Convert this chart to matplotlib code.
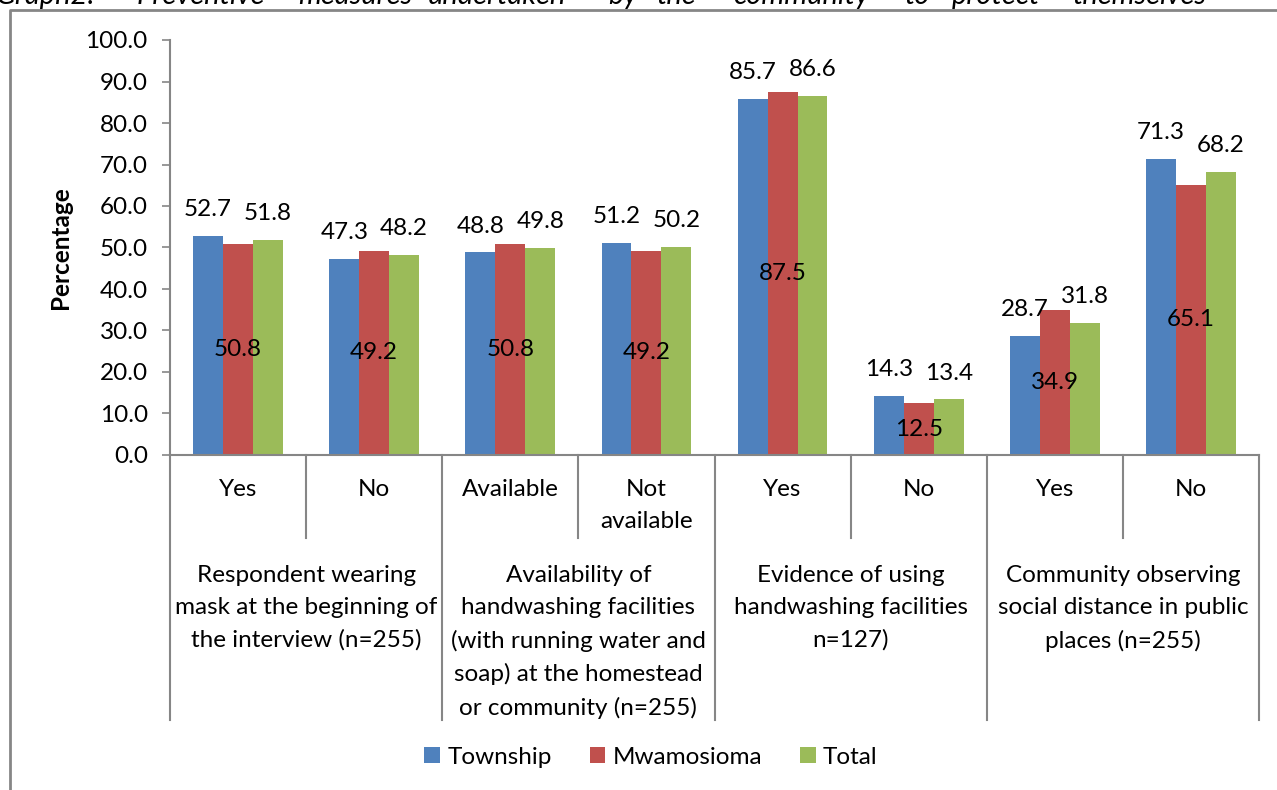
import numpy as np
import matplotlib.pyplot as plt
from matplotlib.lines import Line2D
import matplotlib.transforms as mtransforms

plt.rcParams['font.family'] = ['Lato', 'DejaVu Sans']

# Data
sub_labels = ["Yes", "No", "Available", "Not\navailable", "Yes", "No", "Yes", "No"]
group_labels = [
    "Respondent wearing\nmask at the beginning of\nthe interview (n=255)",
    "Availability of\nhandwashing facilities\n(with running water and\nsoap) at the homestead\nor community (n=255)",
    "Evidence of using\nhandwashing facilities\nn=127)",
    "Community observing\nsocial distance in public\nplaces (n=255)",
]
township = [52.7, 47.3, 48.8, 51.2, 85.7, 14.3, 28.7, 71.3]
mwamosioma = [50.8, 49.2, 50.8, 49.2, 87.5, 12.5, 34.9, 65.1]
total = [51.8, 48.2, 49.8, 50.2, 86.6, 13.4, 31.8, 68.2]
series_names = ["Township", "Mwamosioma", "Total"]
colors = ["#4F81BD", "#C0504D", "#9BBB59"]
title_words = ["Graph2:", "Preventive", "measures", "undertaken", "by", "the",
               "community", "to", "protect", "themselves"]

W, H = 1277, 790
fig = plt.figure(figsize=(W / 100, H / 100), dpi=100)
ax = fig.add_axes([170 / W, 1 - 455 / H, (1259 - 170) / W, 415 / H])

x = np.arange(len(sub_labels))
bw = 0.22
grey = "#868686"
fs = 17.5

all_series = [township, mwamosioma, total]
for i, (vals, name, c) in enumerate(zip(all_series, series_names, colors)):
    pos = x + (i - 1) * bw
    ax.bar(pos, vals, width=bw, color=c, label=name, zorder=2)
    for px, v in zip(pos, vals):
        if i == 1:
            # Mwamosioma labels sit inside the bar
            ax.text(px, v / 2, f"{v:.1f}", ha="center", va="center", fontsize=fs, zorder=3)
        else:
            ax.annotate(f"{v:.1f}", (px, v), xytext=(0, 19), textcoords="offset points",
                        ha="center", va="center", fontsize=fs, zorder=3)

ax.set_xlim(-0.5, len(sub_labels) - 0.5)
ax.set_ylim(0, 100)
ax.set_yticks(np.arange(0, 101, 10))
ax.set_yticklabels([f"{t:.1f}" for t in np.arange(0, 101, 10)], fontsize=fs)
ax.tick_params(axis="y", direction="out", length=6, width=1.2, color=grey, pad=10)
ax.set_xticks([])
for s in ["top", "right"]:
    ax.spines[s].set_visible(False)
for s in ["left", "bottom"]:
    ax.spines[s].set_color(grey)
    ax.spines[s].set_linewidth(1.5)
ax.set_ylabel("Percentage", fontsize=fs, fontweight="bold", labelpad=10)

# multi-level category axis
trans = mtransforms.blended_transform_factory(ax.transData, ax.transAxes)
for b in np.arange(-0.5, len(sub_labels), 1.0):
    long_line = int(round(b + 0.5)) % 2 == 0
    y_end = -0.6386 if long_line else -0.2
    ax.add_line(Line2D([b, b], [0, y_end], transform=trans, color=grey, lw=1.5,
                       clip_on=False))
for xi, lab in zip(x, sub_labels):
    ax.text(xi, -0.058, lab, transform=trans, ha="center", va="top", fontsize=fs,
            linespacing=1.63)
for gi, lab in enumerate(group_labels):
    ax.text(2 * gi + 0.5, -0.266, lab, transform=trans, ha="center", va="top",
            fontsize=fs, linespacing=1.63)

# legend
fig.legend(loc="center", bbox_to_anchor=(651 / W, 1 - 757 / H), ncol=3, frameon=False,
           fontsize=fs, handlelength=0.65, handleheight=0.65, handletextpad=0.3,
           columnspacing=1.55)

# outer chart border
fig.add_artist(Line2D([10 / W, 10 / W, 1.0], [0.0, 1 - 10 / H, 1 - 10 / H],
                      transform=fig.transFigure, color=grey, lw=2))

# cut-off caption at the top
word_x = [-4, 137, 298, 428, 608, 657, 733, 905, 952, 1073]
for wx, w in zip(word_x, title_words):
    fig.text(wx / W, 1 - 4 / H, w, fontsize=21, style="italic", ha="left",
             va="baseline")

fig.savefig("out.png", dpi=100)
